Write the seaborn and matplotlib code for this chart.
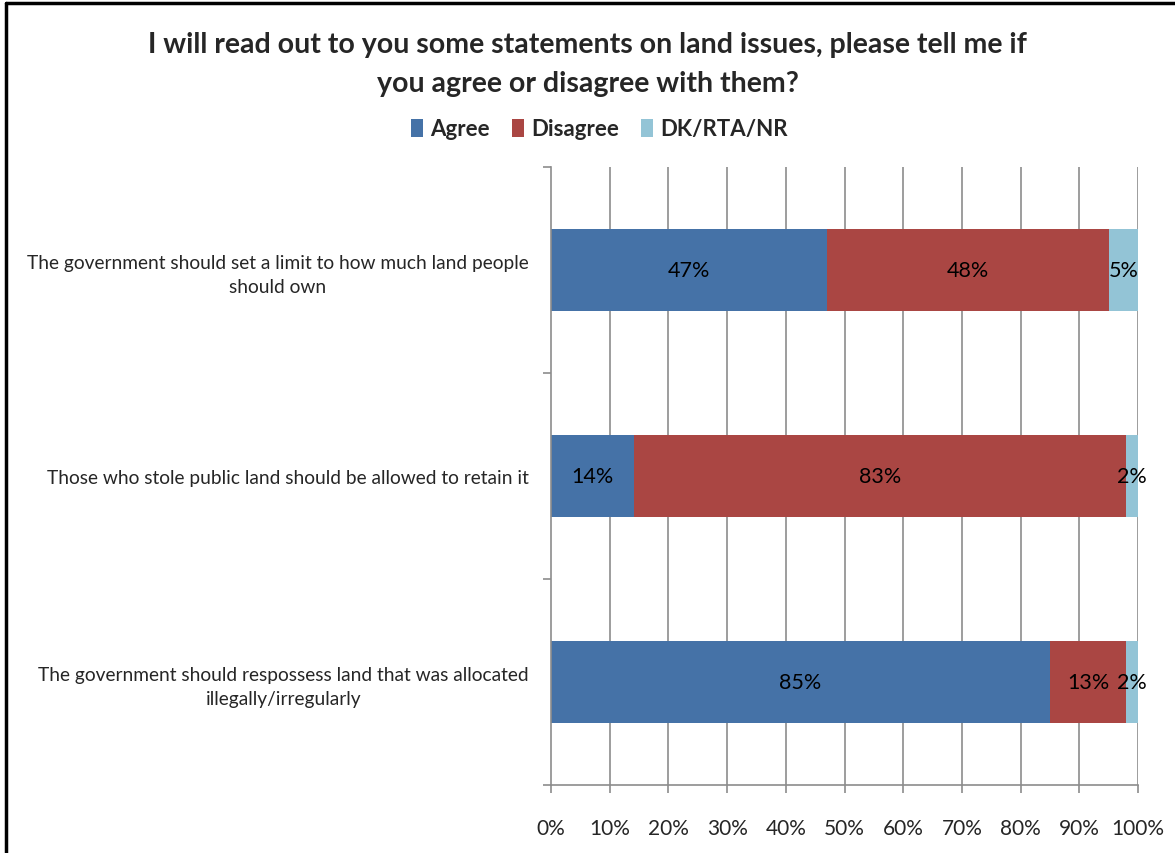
import matplotlib
matplotlib.use("Agg")
import matplotlib.pyplot as plt
import seaborn as sns
import numpy as np
import pandas as pd
from matplotlib.lines import Line2D
from matplotlib.patches import Patch

categories = [
    "The government should set a limit to how much land people\nshould own",
    "Those who stole public land should be allowed to retain it",
    "The government should respossess land that was allocated\nillegally/irregularly",
]
series = ["Agree", "Disagree", "DK/RTA/NR"]
agree = [47, 14, 85]
disagree = [48, 83, 13]
dk = [5, 2, 2]
x_ticks = [0, 10, 20, 30, 40, 50, 60, 70, 80, 90, 100]
colors = ["#4572A7", "#AA4643", "#93C4D6"]

sns.set_theme(style="white")
plt.rcParams["font.family"] = ["Lato", "DejaVu Sans"]

vals = np.array([agree, disagree, dk], dtype=float)
totals = vals.sum(axis=0)
pct = vals / totals * 100
cum = np.cumsum(pct, axis=0)

df = pd.DataFrame({"cat": categories, "c0": cum[0], "c1": cum[1], "c2": cum[2]})

fig = plt.figure(figsize=(11.75, 8.54), dpi=100)
ax = fig.add_axes([551/1175, 1-786/854, (1138-551)/1175, (786-168)/854])

# grid
for t in x_ticks[1:]:
    ax.axvline(t, color="#8c8c8c", lw=1.2, zorder=0)

for col, c in zip(["c2", "c1", "c0"], colors[::-1]):
    sns.barplot(data=df, x=col, y="cat", color=c, width=0.4, ax=ax,
                saturation=1, linewidth=0, zorder=2, orient="h")

for i in range(3):
    left = 0
    for j in range(3):
        w = pct[j, i]
        ax.text(left + w/2, i, f"{int(vals[j, i])}%", ha="center", va="center",
                fontsize=15.5, color="black", zorder=5)
        left += w

ax.set_xlim(0, 100)
ax.set_ylim(2.5, -0.5)
ax.set_xlabel("")
ax.set_ylabel("")
ax.set_xticks(x_ticks)
ax.set_xticklabels([f"{t}%" for t in x_ticks], fontsize=15)
ax.set_yticks([0, 1, 2])
ax.set_yticklabels(categories, fontsize=13.8, multialignment="center", linespacing=1.45)
ax.set_yticks([-0.5, 0.5, 1.5, 2.5], minor=True)
ax.tick_params(axis="y", which="major", length=0, pad=16)
ax.tick_params(axis="y", which="minor", length=6, color="#8c8c8c", width=1.2, direction="out", left=True)
ax.tick_params(axis="x", which="major", length=6, color="#8c8c8c", width=1.2, direction="out", bottom=True, pad=18)
for s in ["top", "right"]:
    ax.spines[s].set_visible(False)
for s in ["left", "bottom"]:
    ax.spines[s].set_color("#8c8c8c")
    ax.spines[s].set_linewidth(1.2)

fig.text(0.5, 1-45/854, "I will read out to you some statements on land issues, please tell me if",
         ha="center", va="center", fontsize=20.5, fontweight="bold")
fig.text(0.5, 1-84/854, "you agree or disagree with them?",
         ha="center", va="center", fontsize=20.5, fontweight="bold")

handles = [Patch(facecolor=c, edgecolor="none") for c in colors]
fig.legend(handles, series, loc="center", bbox_to_anchor=(0.51, 1-130/854), ncol=3,
           frameon=False, prop={"weight": "bold", "size": 16}, handlelength=0.55,
           handleheight=0.85, handletextpad=0.3, columnspacing=1.0)

fig.add_artist(Line2D([6/1175, 6/1175], [0, 1-4/854], color="black", lw=2.5, transform=fig.transFigure))
fig.add_artist(Line2D([6/1175, 1], [1-4/854, 1-4/854], color="black", lw=2.5, transform=fig.transFigure))

fig.savefig("out.png", dpi=100)
